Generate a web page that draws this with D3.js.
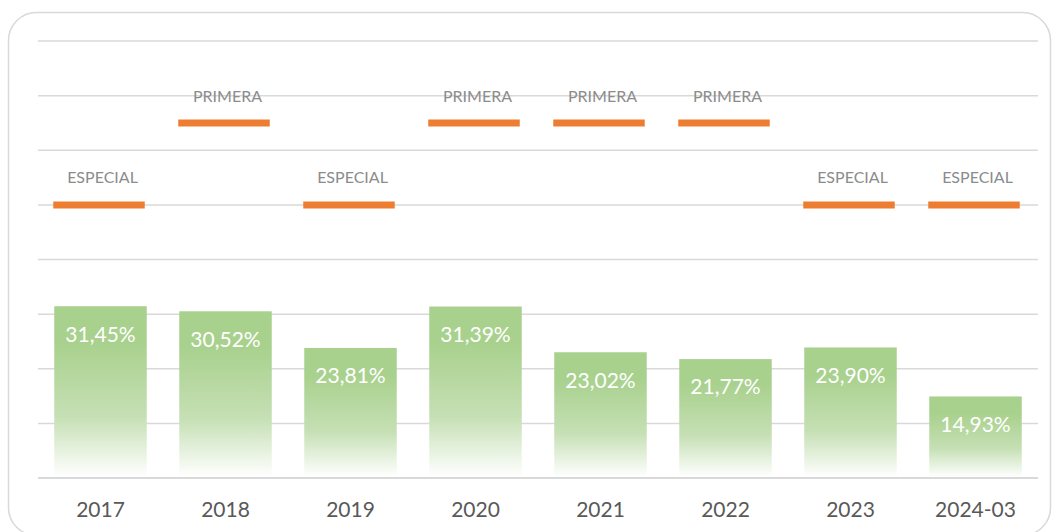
<!DOCTYPE html>
<html>
<head>
<meta charset="utf-8">
<script src="https://cdn.jsdelivr.net/npm/d3@7"></script>
<style>
  html, body { margin: 0; padding: 0; background: #fff; }
  #chart { width: 1053px; height: 532px; }
</style>
</head>
<body>
<div id="chart"></div>
<script>
//////////////////////
//  main constants  //
//////////////////////
const WIDTH = 1053;
const HEIGHT = 532;

const years = ["2017", "2018", "2019", "2020", "2021", "2022", "2023", "2024-03"];
const rates = [31.45, 30.52, 23.81, 31.39, 23.02, 21.77, 23.90, 14.93];
const levels = ["ESPECIAL", "PRIMERA", "ESPECIAL", "PRIMERA", "PRIMERA", "PRIMERA", "ESPECIAL", "ESPECIAL"];
const levelValue = { "ESPECIAL": 50, "PRIMERA": 65 };
const yTicks = [0, 10, 20, 30, 40, 50, 60, 70, 80];

const MARGIN = { TOP: 41, BOTTOM: 54, LEFT: 38, RIGHT: 15 };
const plotW = WIDTH - MARGIN.LEFT - MARGIN.RIGHT;
const plotH = HEIGHT - MARGIN.TOP - MARGIN.BOTTOM;

const FONT = "Lato, 'Open Sans', sans-serif";

const svg = d3.select("#chart").append("svg")
    .attr("width", WIDTH)
    .attr("height", HEIGHT);

// frame
svg.append("rect")
    .attr("x", 8.5).attr("y", 12.5)
    .attr("width", WIDTH - 11).attr("height", 523)
    .attr("rx", 28).attr("ry", 28)
    .attr("fill", "none")
    .attr("stroke", "#d9d9d9")
    .attr("stroke-width", 1.5);

const defs = svg.append("defs");
const grad = defs.append("linearGradient")
    .attr("id", "barGrad")
    .attr("x1", 0).attr("y1", 0).attr("x2", 0).attr("y2", 1);
grad.append("stop").attr("offset", "0%").attr("stop-color", "#a9d18e");
grad.append("stop").attr("offset", "22%").attr("stop-color", "#a9d18e");
grad.append("stop").attr("offset", "65%").attr("stop-color", "#c6e0b5");
grad.append("stop").attr("offset", "100%").attr("stop-color", "#ffffff");

const g = svg.append("g")
    .attr("transform", `translate(${MARGIN.LEFT}, ${MARGIN.TOP})`);

const x = d3.scaleBand().domain(years).range([0, plotW]).paddingInner(0.26).paddingOuter(0.13);
const y = d3.scaleLinear().domain([0, 80]).range([plotH, 0]);

// gridlines
g.append("g")
    .selectAll("line")
    .data(yTicks)
    .join("line")
    .attr("x1", 0).attr("x2", plotW)
    .attr("y1", d => y(d)).attr("y2", d => y(d))
    .attr("stroke", "#d9d9d9")
    .attr("stroke-width", d => d === 0 ? 2 : 1.5);

// bars
g.append("g")
    .selectAll("rect")
    .data(years)
    .join("rect")
    .attr("x", d => x(d))
    .attr("width", x.bandwidth())
    .attr("y", (d, i) => y(rates[i]))
    .attr("height", (d, i) => y(0) - y(rates[i]) - 1)
    .attr("fill", "url(#barGrad)");

// bar value labels
g.append("g")
    .selectAll("text")
    .data(years)
    .join("text")
    .attr("x", d => x(d) + x.bandwidth() / 2)
    .attr("y", (d, i) => y(rates[i]) + 28)
    .attr("dy", "0.35em")
    .attr("text-anchor", "middle")
    .attr("fill", "#ffffff")
    .style("font-family", FONT)
    .style("font-size", "21px")
    .text((d, i) => rates[i].toFixed(2).replace(".", ",") + "%");

// level markers
g.append("g")
    .selectAll("line")
    .data(years)
    .join("line")
    .attr("x1", d => x(d) - 1)
    .attr("x2", d => x(d) + x.bandwidth() - 2)
    .attr("y1", (d, i) => y(levelValue[levels[i]]))
    .attr("y2", (d, i) => y(levelValue[levels[i]]))
    .attr("stroke", "#ed7d31")
    .attr("stroke-width", 7);

g.append("g")
    .selectAll("text")
    .data(years)
    .join("text")
    .attr("x", d => x(d) + x.bandwidth() / 2 + 2)
    .attr("y", (d, i) => y(levelValue[levels[i]]) - 27)
    .attr("dy", "0.35em")
    .attr("text-anchor", "middle")
    .attr("fill", "#8c8c8c")
    .style("font-family", FONT)
    .style("font-size", "16px")
    .text((d, i) => levels[i]);

// x axis
const xAxis = g.append("g")
    .attr("transform", `translate(0, ${plotH})`)
    .call(d3.axisBottom(x).tickSize(0).tickPadding(24));
xAxis.select(".domain").remove();
xAxis.selectAll("text")
    .attr("fill", "#595959")
    .style("font-family", FONT)
    .style("font-size", "21px");
</script>
</body>
</html>
